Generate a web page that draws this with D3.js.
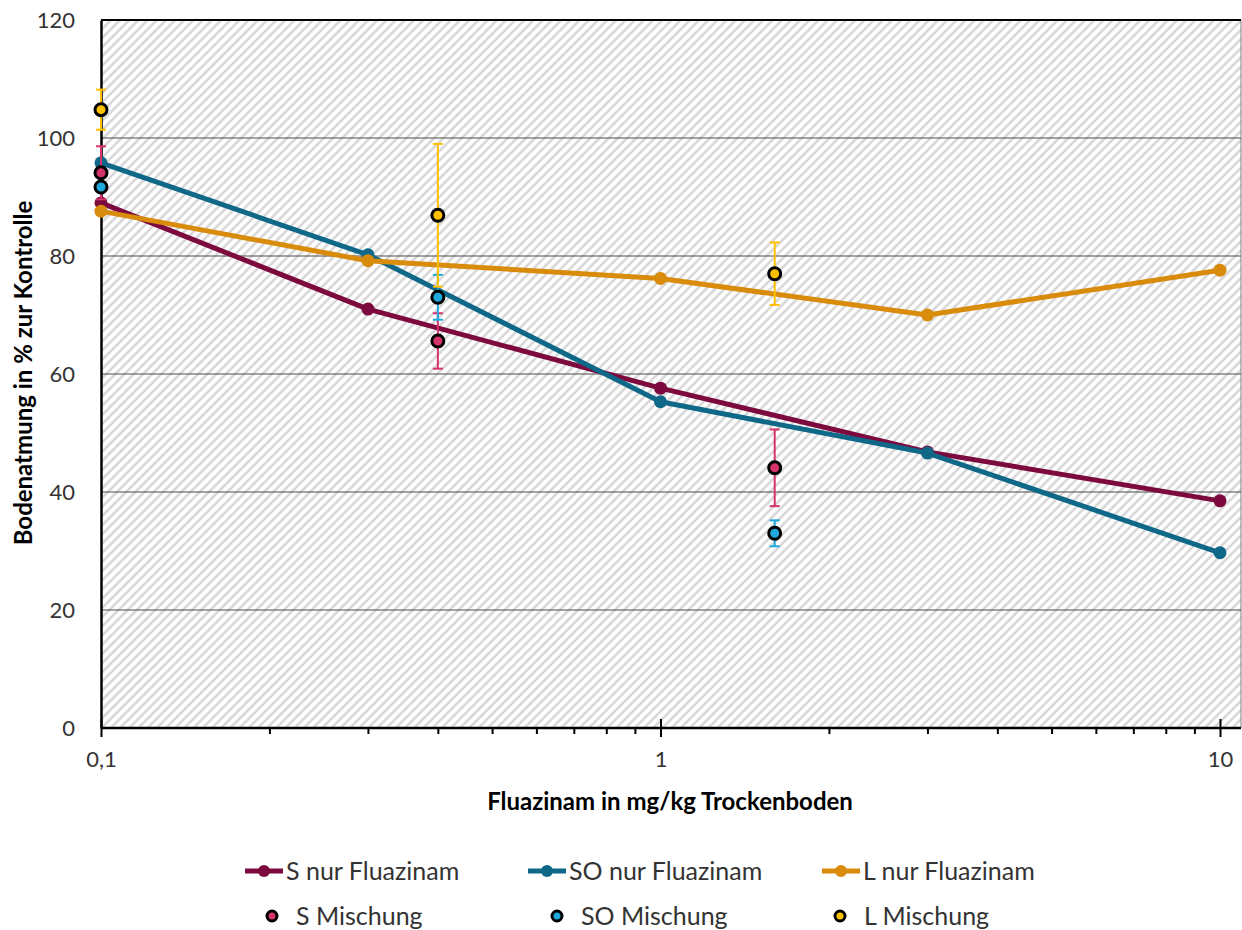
<!DOCTYPE html>
<html><head><meta charset="utf-8">
<script src="https://cdn.jsdelivr.net/npm/d3@7"></script>
<style>body{margin:0;background:#fff}svg{display:block}</style>
</head><body>
<svg id="c" width="1242" height="930"></svg>
<script>
const lineX = [0.1, 0.3, 1, 3, 10];
const sNur  = [89.0, 71.0, 57.6, 46.8, 38.5];
const soNur = [95.8, 80.2, 55.3, 46.6, 29.7];
const lNur  = [87.6, 79.2, 76.2, 70.0, 77.6];

const mixX = [0.1, 0.4, 1.6];
const sMix  = [94.1, 65.6, 44.1];
const sErr  = [4.5, 4.7, 6.5];
const soMix = [91.7, 73.0, 33.0];
const soErr = [0.0, 3.8, 2.2];
const lMix  = [104.8, 86.9, 77.0];
const lErr  = [3.4, 12.1, 5.3];

const yTicks = [0, 20, 40, 60, 80, 100, 120];
const xTicks = [0.1, 1, 10];
const xTickLabels = ["0,1", "1", "10"];

const lineSeries = [
  {name: "S nur Fluazinam", values: sNur, color: "#7c0a3e"},
  {name: "SO nur Fluazinam", values: soNur, color: "#0f6888"},
  {name: "L nur Fluazinam", values: lNur, color: "#d98b0b"}
];
const mixSeries = [
  {name: "S Mischung", values: sMix, err: sErr, color: "#d6336c"},
  {name: "SO Mischung", values: soMix, err: soErr, color: "#1eaadf"},
  {name: "L Mischung", values: lMix, err: lErr, color: "#ffc000"}
];

const font = "Lato, 'Open Sans', sans-serif";
const svg = d3.select("#c");
const L = 101, R = 1241, T = 20, B = 728;
const x = d3.scaleLog().domain([0.1, Math.pow(10, -1 + (R - L) / 559.5)]).range([L, R]);
const y = d3.scaleLinear().domain([0, 120]).range([B, T]);

// hatch pattern
const defs = svg.append("defs");
const pat = defs.append("pattern").attr("id", "hatch")
  .attr("patternUnits", "userSpaceOnUse").attr("width", 6.5).attr("height", 6.5)
  .attr("patternTransform", "rotate(45)");
pat.append("rect").attr("width", 6.5).attr("height", 6.5).attr("fill", "#fff");
pat.append("line").attr("x1", 1.6).attr("x2", 1.6).attr("y1", 0).attr("y2", 6.5)
  .attr("stroke", "#d6d6d6").attr("stroke-width", 2.5);

svg.append("rect").attr("x", L).attr("y", T).attr("width", R - L).attr("height", B - T)
  .attr("fill", "url(#hatch)");
svg.append("line").attr("x1", R).attr("x2", R).attr("y1", T).attr("y2", B)
  .attr("stroke", "#7f7f7f").attr("stroke-width", 1);

// grid
svg.append("g").selectAll("line").data(yTicks.filter(d => d > 0)).join("line")
  .attr("x1", L).attr("x2", R).attr("y1", d => y(d)).attr("y2", d => y(d))
  .attr("stroke", d => d === 120 ? "#000" : "#4d4d4d")
  .attr("stroke-width", d => d === 120 ? 2.2 : 1.2);

// y axis
const yAxis = svg.append("g").attr("transform", `translate(${L},0)`)
  .call(d3.axisLeft(y).tickValues(yTicks).tickSize(0).tickPadding(26));
yAxis.select(".domain").attr("stroke", "#000").attr("stroke-width", 2.5);
yAxis.selectAll("text").attr("font-family", font).attr("font-size", 22).attr("fill", "#333");

// x axis minor ticks
const minor = [];
[0.1, 1].forEach(dec => { for (let k = 2; k <= 9; k++) minor.push(dec * k); });
minor.push(11, 12);
const xMinor = svg.append("g").attr("transform", `translate(0,${B})`)
  .call(d3.axisBottom(x).tickValues(minor.filter(v => v <= x.domain()[1])).tickSize(6).tickFormat(""));
xMinor.select(".domain").remove();
xMinor.selectAll("line").attr("stroke", "#000").attr("stroke-width", 2);

const xAxis = svg.append("g").attr("transform", `translate(0,${B})`)
  .call(d3.axisBottom(x).tickValues(xTicks).tickSize(9).tickPadding(14)
    .tickFormat((d, i) => xTickLabels[i]));
xAxis.select(".domain").attr("stroke", "#000").attr("stroke-width", 2.5).attr("d", `M${L},0H${R}`);
xAxis.selectAll(".tick line").attr("stroke", "#000").attr("stroke-width", 2).attr("y1", -9);
xAxis.selectAll("text").attr("font-family", font).attr("font-size", 22).attr("fill", "#333");

// lines
const lineGen = d3.line().x((d, i) => x(lineX[i])).y(d => y(d));
lineSeries.forEach(s => {
  svg.append("path").attr("d", lineGen(s.values)).attr("fill", "none")
    .attr("stroke", s.color).attr("stroke-width", 5).attr("stroke-linejoin", "round");
  svg.append("g").selectAll("circle").data(s.values).join("circle")
    .attr("cx", (d, i) => x(lineX[i])).attr("cy", d => y(d)).attr("r", 6.5).attr("fill", s.color);
});

// mixtures: error bars
mixSeries.forEach(s => {
  const g = svg.append("g");
  s.values.forEach((v, i) => {
    if (s.err[i] > 0) {
      const cx = x(mixX[i]);
      g.append("line").attr("x1", cx).attr("x2", cx).attr("y1", y(v - s.err[i])).attr("y2", y(v + s.err[i]))
        .attr("stroke", s.color).attr("stroke-width", 2);
      [v - s.err[i], v + s.err[i]].forEach(e => {
        g.append("line").attr("x1", cx - 5).attr("x2", cx + 5).attr("y1", y(e)).attr("y2", y(e))
          .attr("stroke", s.color).attr("stroke-width", 2);
      });
    }
  });
});
mixSeries.forEach(s => {
  svg.append("g").selectAll("circle").data(s.values).join("circle")
    .attr("cx", (d, i) => x(mixX[i])).attr("cy", d => y(d)).attr("r", 6)
    .attr("fill", s.color).attr("stroke", "#000").attr("stroke-width", 3);
});

// axis titles
svg.append("text").attr("x", 670).attr("y", 810).attr("text-anchor", "middle")
  .attr("font-family", font).attr("font-weight", "bold").attr("font-size", 24).attr("fill", "#000")
  .text("Fluazinam in mg/kg Trockenboden");
svg.append("text").attr("transform", "translate(32,373) rotate(-90)").attr("text-anchor", "middle")
  .attr("font-family", font).attr("font-weight", "bold").attr("font-size", 24).attr("fill", "#000")
  .text("Bodenatmung in % zur Kontrolle");

// legend
const legX1 = [245, 528, 822];
lineSeries.forEach((s, i) => {
  const g = svg.append("g").attr("transform", `translate(${legX1[i]},871)`);
  g.append("line").attr("x1", 0).attr("x2", 38).attr("stroke", s.color).attr("stroke-width", 5);
  g.append("circle").attr("cx", 19).attr("r", 6).attr("fill", s.color);
  g.append("text").attr("x", 41).attr("y", 8.5).attr("font-family", font).attr("font-size", 25)
    .attr("fill", "#333").text(s.name);
});
const legX2 = [272, 557, 840];
mixSeries.forEach((s, i) => {
  const g = svg.append("g").attr("transform", `translate(${legX2[i]},916)`);
  g.append("circle").attr("r", 5).attr("fill", s.color).attr("stroke", "#000").attr("stroke-width", 3);
  g.append("text").attr("x", 24).attr("y", 8.5).attr("font-family", font).attr("font-size", 25)
    .attr("fill", "#333").text(s.name);
});
</script>
</body></html>
